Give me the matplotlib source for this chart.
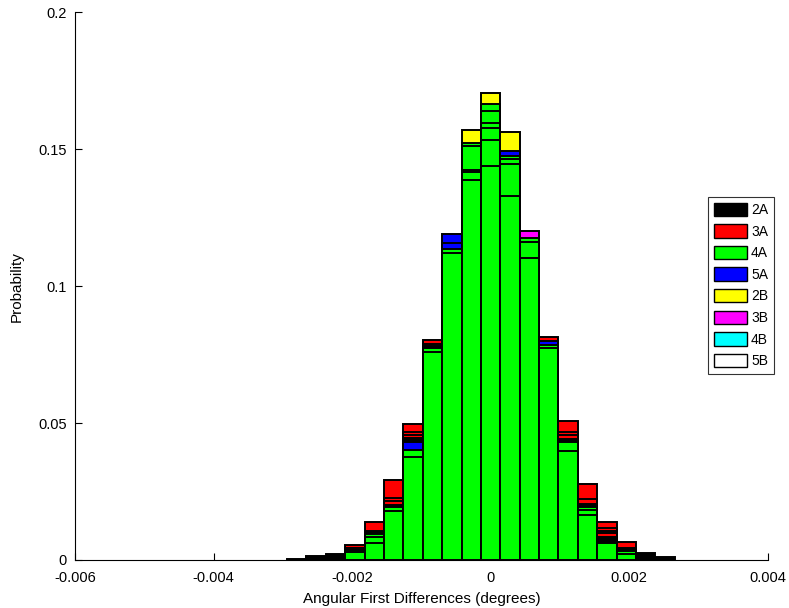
import numpy as np
import matplotlib
matplotlib.use('Agg')
import matplotlib.pyplot as plt
from matplotlib.patches import Patch

plt.rcParams['font.family'] = ['Liberation Sans', 'DejaVu Sans']

# bin centres (degrees)
bin_width = 0.00028
bin_index = np.arange(-10, 10)
centers = bin_index * bin_width

# each series = several runs, one value per bin (probability)
runs_2A = [
    [0.0005, 0.0010, 0.0021, 0.0038, 0.0101, 0.0200, 0.0445, 0.0780, 0, 0, 0, 0, 0, 0, 0.0443, 0.0205, 0.0085, 0.0040, 0.0024, 0.0010],
    [0, 0, 0.0012, 0, 0, 0, 0, 0, 0, 0, 0, 0, 0, 0, 0, 0, 0, 0, 0.0012, 0],
]
runs_3A = [
    [0, 0.0015, 0, 0.0055, 0.0138, 0.0292, 0.0496, 0.0803, 0, 0, 0, 0, 0, 0.0814, 0.0507, 0.0276, 0.0138, 0.0065, 0, 0],
    [0, 0, 0, 0.0045, 0.0106, 0.0226, 0.0467, 0.0790, 0, 0, 0, 0, 0, 0, 0.0469, 0.0221, 0.0118, 0.0045, 0, 0],
    [0, 0, 0, 0, 0, 0.0215, 0.0455, 0, 0, 0, 0, 0, 0, 0, 0.0455, 0, 0.0106, 0, 0, 0],
    [0, 0, 0, 0, 0, 0, 0, 0, 0, 0, 0, 0, 0, 0, 0, 0, 0.0098, 0, 0, 0],
]
runs_4A = [
    [0, 0, 0, 0.0035, 0.0094, 0.0194, 0.0400, 0.0775, 0.1136, 0.1523, 0.1663, 0.1474, 0.1176, 0.0785, 0.0432, 0.0194, 0.0061, 0.0033, 0, 0],
    [0, 0, 0, 0.0030, 0.0083, 0.0180, 0.0375, 0.0760, 0.1122, 0.1510, 0.1639, 0.1464, 0.1160, 0.0775, 0.0398, 0.0182, 0, 0.0022, 0, 0],
    [0, 0, 0, 0, 0.0063, 0, 0, 0, 0, 0.1425, 0.1597, 0.1444, 0.1103, 0, 0, 0.0164, 0, 0, 0, 0],
    [0, 0, 0, 0, 0, 0, 0, 0, 0, 0.1418, 0.1576, 0.1330, 0, 0, 0, 0, 0, 0, 0, 0],
    [0, 0, 0, 0, 0, 0, 0, 0, 0, 0.1388, 0.1533, 0, 0, 0, 0, 0, 0, 0, 0, 0],
    [0, 0, 0, 0, 0, 0, 0, 0, 0, 0, 0.1438, 0, 0, 0, 0, 0, 0, 0, 0, 0],
]
runs_5A = [
    [0, 0, 0, 0, 0, 0, 0.0432, 0, 0.1190, 0, 0, 0.1493, 0, 0.0800, 0, 0, 0, 0, 0, 0],
    [0, 0, 0, 0, 0, 0, 0, 0, 0.1158, 0, 0, 0, 0, 0, 0, 0, 0, 0, 0, 0],
]
runs_2B = [
    [0, 0, 0, 0, 0, 0, 0, 0, 0, 0.1569, 0.1705, 0.1561, 0, 0, 0, 0, 0, 0, 0, 0],
]
runs_3B = [
    [0, 0, 0, 0, 0, 0, 0, 0, 0, 0, 0, 0, 0.1202, 0, 0, 0, 0, 0, 0, 0],
]
runs_4B = []
runs_5B = []

labels = ['2A', '3A', '4A', '5A', '2B', '3B', '4B', '5B']
colors = ['black', 'red', '#00ff00', 'blue', 'yellow', 'magenta', 'cyan', 'white']
all_runs = [runs_2A, runs_3A, runs_4A, runs_5A, runs_2B, runs_3B, runs_4B, runs_5B]

fig = plt.figure(figsize=(7.89, 6.08), dpi=100)
ax = fig.add_axes([0.095, 0.079, 0.878, 0.901])

# overlapping histograms: per bin, tallest drawn first so shorter ones sit on top
for i, c in enumerate(centers):
    layers = []
    for runs, col in zip(all_runs, colors):
        for r in runs:
            if r[i] > 0:
                layers.append((r[i], col))
    layers.sort(key=lambda t: -t[0])
    for h, col in layers:
        ax.bar(c, h, width=bin_width, color=col, edgecolor='black', linewidth=1.4, zorder=2)

ax.set_xlim(-0.006, 0.004)
ax.set_ylim(0, 0.2)
ax.set_xticks([-0.006, -0.004, -0.002, 0, 0.002, 0.004])
ax.set_xticklabels(['-0.006', '-0.004', '-0.002', '0', '0.002', '0.004'])
ax.set_yticks([0, 0.05, 0.1, 0.15, 0.2])
ax.set_yticklabels(['0', '0.05', '0.1', '0.15', '0.2'])
ax.tick_params(direction='in', length=5, labelsize=10.5, width=0.8)
ax.tick_params(axis='x', pad=8)
ax.tick_params(axis='y', pad=6)
ax.spines['top'].set_visible(False)
ax.spines['right'].set_visible(False)
ax.set_xlabel('Angular First Differences (degrees)', fontsize=11, labelpad=5)
ax.set_ylabel('Probability', fontsize=11, labelpad=10)

handles = [Patch(facecolor=col, edgecolor='black', linewidth=1.0) for col in colors]
leg = ax.legend(handles, labels, loc='upper left', bbox_to_anchor=(708 / 789, 1 - 197 / 608),
                bbox_transform=fig.transFigure, fontsize=10, frameon=True, fancybox=False,
                handlelength=2.4, handleheight=1.1, handletextpad=0.3, labelspacing=0.52,
                borderpad=0.4, borderaxespad=0)
leg.get_frame().set_edgecolor('black')
leg.get_frame().set_linewidth(0.8)

fig.savefig('out.png', dpi=100)
